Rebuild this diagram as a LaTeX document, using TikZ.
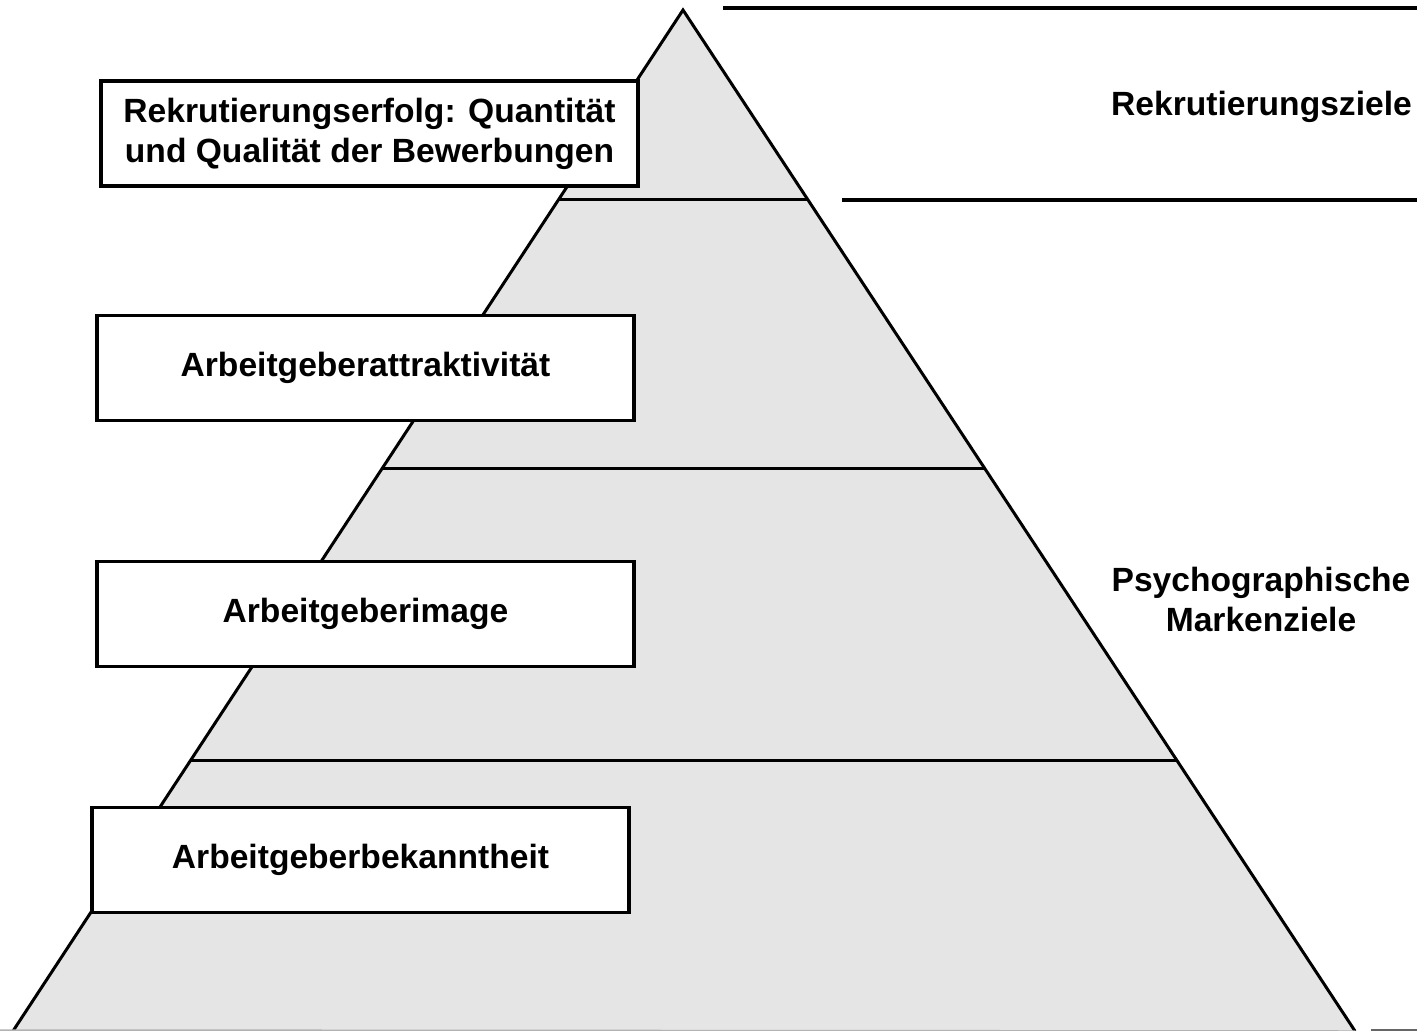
\documentclass[tikz,border=0pt]{standalone}
\usepackage{fontspec}
\setmainfont{Liberation Sans}
\usetikzlibrary{calc}

\tikzset{
  goalbox/.style={draw=black, line width=3.5pt, fill=white, minimum width=537pt,
    minimum height=105pt, inner sep=0pt, align=center,
    font=\fontsize{33.6}{40}\selectfont\bfseries},
  goallabel/.style={align=center, font=\fontsize{33.6}{40}\selectfont\bfseries},
  pyrline/.style={line width=3pt, line join=miter}
}

\begin{document}
\begin{tikzpicture}[x=1pt, y=-1pt]

% Canvas
\useasboundingbox (0,0) rectangle (1417,1031);

% Pyramid corners
\coordinate (apex) at (683,10);
\coordinate (bl) at (13,1031);
\coordinate (br) at (1355,1031);

% Pyramid body
\fill[black!10] (apex) -- (bl) -- (br) -- cycle;
\draw[pyrline] (bl) -- (apex) -- (br);
\draw[line width=1.5pt, black!30] (0,1030) -- (br);
\draw[line width=1.5pt, black!60] (1371,1030) -- (1417,1030);

% Layer lines
\foreach \t/\name in {0.186/one, 0.4486/two, 0.7346/three}{
  \coordinate (l\name) at ($(apex)!\t!(bl)$);
  \coordinate (r\name) at ($(apex)!\t!(br)$);
  \draw[pyrline] (l\name) -- (r\name);
}

% Goal separators on the right
\draw[line width=3.5pt] (723,8) -- (1417,8);
\draw[line width=3.5pt] (842,200) -- (1417,200);

% Level boxes
\node[goalbox] (erfolg) at (369.5,133.5) {Rekrutierungserfolg: Quantität\\und Qualität der Bewerbungen};
\node[goalbox] (attrakt) at (365.5,368) {Arbeitgeberattraktivität};
\node[goalbox] (image) at (365.5,614) {Arbeitgeberimage};
\node[goalbox] (bekannt) at (360.5,860) {Arbeitgeberbekanntheit};

% Goal labels
\node[goallabel] (rekziele) at (1261.5,107) {Rekrutierungsziele};
\node[goallabel] (psychziele) at (1261,599) {Psychographische\\Markenziele};

\end{tikzpicture}
\end{document}
